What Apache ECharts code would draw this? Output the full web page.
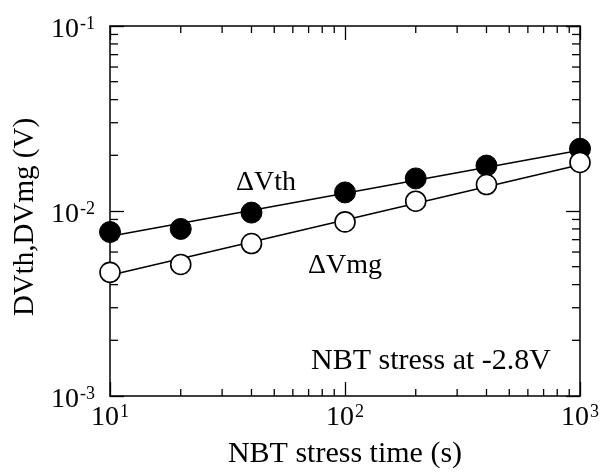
<!DOCTYPE html>
<html>
<head>
<meta charset="utf-8">
<script src="https://cdn.jsdelivr.net/npm/echarts@6/dist/echarts.min.js"></script>
<style>
  html, body { margin: 0; padding: 0; background: #fff; }
  #chart { width: 602px; height: 474px; }
</style>
</head>
<body>
<div id="chart"></div>
<script>
  // NBT stress time (s)
  var stressTime = [10, 20, 40, 100, 200, 400, 1000]
  // measured shifts (V)
  var dVth = [0.0077, 0.0080, 0.0098, 0.0126, 0.0150, 0.0176, 0.0217]
  var dVmg = [0.00466, 0.00514, 0.00667, 0.00873, 0.0113, 0.0139, 0.0183]
  // fit lines, end points
  var fitVth = [[10, 0.0073], [1000, 0.0213]]
  var fitVmg = [[10, 0.00449], [1000, 0.0178]]
  // minor tick values
  var xMinor = [20, 30, 40, 50, 60, 70, 80, 90, 200, 300, 400, 500, 600, 700, 800, 900]
  var yMinor = [0.002, 0.003, 0.004, 0.005, 0.006, 0.007, 0.008, 0.009,
    0.02, 0.03, 0.04, 0.05, 0.06, 0.07, 0.08, 0.09]

  var xMin = 10, xMax = 1000, yMin = 0.001, yMax = 0.1
  var font = 'Liberation Serif'

  function powLabel (v) {
    return '{b|10}{s|' + Math.round(Math.log10(v)) + '}'
  }
  var powRich = {
    b: {fontFamily: font, fontSize: 28, color: '#000'},
    s: {fontFamily: font, fontSize: 18, color: '#000', verticalAlign: 'top', padding: [0, 0, 12, 1]}
  }

  function tickLine (x1, y1, x2, y2) {
    return {type: 'line', shape: {x1: x1, y1: y1, x2: x2, y2: y2}, style: {stroke: '#000', lineWidth: 1.3}}
  }

  var axisLine = {show: true, lineStyle: {color: '#000', width: 1.5}}
  var majorTick = {show: true, inside: true, length: 14, lineStyle: {color: '#000', width: 1.3}}

  var option = {
    backgroundColor: '#fff',
    animation: false,
    grid: {left: 110, right: 21, top: 26, bottom: 74},
    xAxis: [{
      type: 'log', logBase: 10, min: xMin, max: xMax,
      name: 'NBT stress time (s)', nameLocation: 'middle', nameGap: 43,
      nameTextStyle: {fontFamily: font, fontSize: 30, color: '#000'},
      axisLine: axisLine, axisTick: majorTick, splitLine: {show: false},
      axisLabel: {formatter: powLabel, rich: powRich, margin: 7}
    }, {
      type: 'log', logBase: 10, min: xMin, max: xMax, position: 'top',
      axisLine: axisLine, axisTick: majorTick, splitLine: {show: false},
      axisLabel: {show: false}
    }],
    yAxis: [{
      type: 'log', logBase: 10, min: yMin, max: yMax,
      name: 'DVth,DVmg (V)', nameLocation: 'middle', nameGap: 65,
      nameTextStyle: {fontFamily: font, fontSize: 29, color: '#000', padding: [0, 12, 0, 0]},
      axisLine: axisLine, axisTick: majorTick, splitLine: {show: false},
      axisLabel: {formatter: powLabel, rich: powRich, margin: 15, padding: [8, 0, 0, 0]}
    }, {
      type: 'log', logBase: 10, min: yMin, max: yMax, position: 'right',
      axisLine: axisLine, axisTick: majorTick, splitLine: {show: false},
      axisLabel: {show: false}
    }],
    graphic: [
      {type: 'text', left: 236, top: 169, style: {text: 'ΔVth', font: '28px "Liberation Serif"', fill: '#000'}},
      {type: 'text', left: 308, top: 252, style: {text: 'ΔVmg', font: '28px "Liberation Serif"', fill: '#000'}},
      {type: 'text', left: 311, top: 346, style: {text: 'NBT stress at -2.8V', font: '30px "Liberation Serif"', fill: '#000'}}
    ],
    series: [
      {
        type: 'custom', silent: true, clip: false, z: 1,
        data: xMinor.map(function (v) { return [v, yMin] }),
        renderItem: function (params, api) {
          var b = api.coord([api.value(0), yMin])
          var t = api.coord([api.value(0), yMax])
          return {type: 'group', children: [
            tickLine(b[0], b[1], b[0], b[1] - 7),
            tickLine(t[0], t[1], t[0], t[1] + 7)
          ]}
        }
      },
      {
        type: 'custom', silent: true, clip: false, z: 1,
        data: yMinor.map(function (v) { return [xMin, v] }),
        renderItem: function (params, api) {
          var l = api.coord([xMin, api.value(1)])
          var r = api.coord([xMax, api.value(1)])
          return {type: 'group', children: [
            tickLine(l[0], l[1], l[0] + 8, l[1]),
            tickLine(r[0], r[1], r[0] - 8, r[1])
          ]}
        }
      },
      {
        type: 'line', data: fitVth, symbol: 'none', z: 2,
        lineStyle: {color: '#000', width: 1.6}
      },
      {
        type: 'line', data: fitVmg, symbol: 'none', z: 2,
        lineStyle: {color: '#000', width: 1.6}
      },
      {
        name: 'ΔVth', type: 'scatter', clip: false, z: 3,
        data: stressTime.map(function (t, i) { return [t, dVth[i]] }),
        symbol: 'circle', symbolSize: 21,
        itemStyle: {color: '#000', borderColor: '#000', borderWidth: 1, opacity: 1}
      },
      {
        name: 'ΔVmg', type: 'scatter', clip: false, z: 4,
        data: stressTime.map(function (t, i) { return [t, dVmg[i]] }),
        symbol: 'circle', symbolSize: 20,
        itemStyle: {color: '#fff', borderColor: '#000', borderWidth: 1.6, opacity: 1}
      }
    ]
  }

  var chart = echarts.init(document.getElementById('chart'))
  chart.setOption(option)
</script>
</body>
</html>
